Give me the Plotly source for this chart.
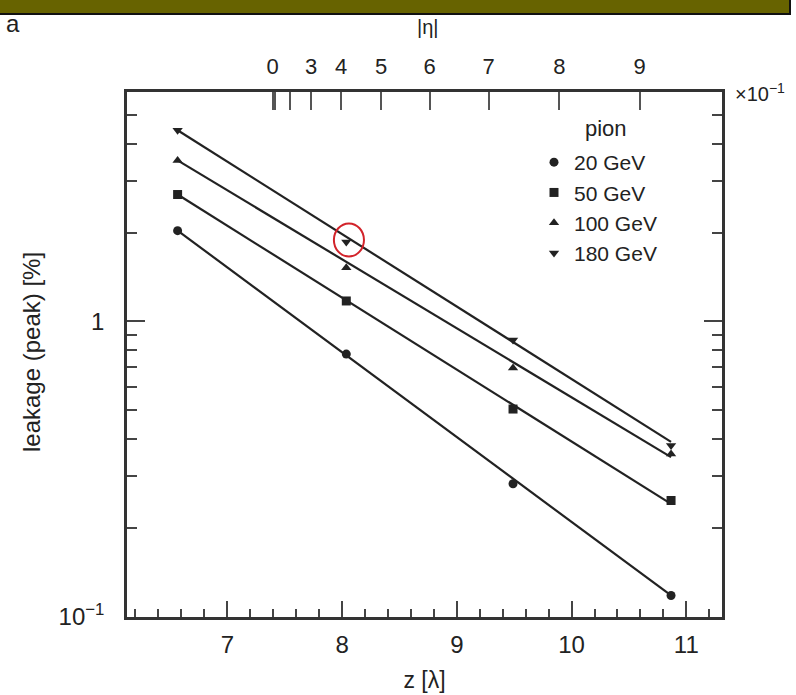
import plotly.graph_objects as go
import math

# ---------------- data ----------------
z_points = [6.567, 8.037, 9.49, 10.867]          # depth z [lambda]
leak_20 = [2.03, 0.775, 0.282, 0.118]
leak_50 = [2.69, 1.173, 0.505, 0.2475]
leak_100 = [3.51, 1.52, 0.695, 0.356]
leak_180 = [4.44, 1.857, 0.866, 0.380]

fit_z = [6.567, 10.867]                           # fitted lines end points
fit_20 = [2.03, 0.118]
fit_50 = [2.69, 0.241]
fit_100 = [3.51, 0.347]
fit_180 = [4.44, 0.391]

series_names = ["20 GeV", "50 GeV", "100 GeV", "180 GeV"]

x_ticks = [7, 8, 9, 10, 11]
y_ticks = [0.1, 1]
y_ticktext = ["10<sup>\u22121</sup>", "1"]
y_minor = [0.2, 0.3, 0.4, 0.5, 0.6, 0.7, 0.8, 0.9, 2, 3, 4, 5]

eta_tick_z = [7.395, 7.418, 7.543, 7.730, 7.991, 8.340, 8.763, 9.277, 9.893, 10.593]
eta_ticktext = ["0", "", "", "3", "4", "5", "6", "7", "8", "9"]

highlight_z = 8.06
highlight_val = 1.888

# ---------------- geometry ----------------
W, H = 796, 695
L, R, T, B = 127, 722, 92, 617
x_range = [6.126, 11.311]
y_range = [-1.001, 0.777]

def px(xp):
    return (xp - L) / (R - L)

def py(yp):
    return (B - yp) / (B - T)

FONT = "Liberation Sans, Arial, Helvetica, sans-serif"
INK = "#222222"

fig = go.Figure()

fits = [fit_20, fit_50, fit_100, fit_180]
for f in fits:
    fig.add_trace(go.Scatter(x=fit_z, y=f, mode="lines",
                             line=dict(color=INK, width=2.2),
                             showlegend=False, hoverinfo="skip"))

symbols = ["circle", "square", "triangle-up", "triangle-down"]
sizes = [9, 9, 9, 9]
for name, vals, sym, sz in zip(series_names, [leak_20, leak_50, leak_100, leak_180], symbols, sizes):
    fig.add_trace(go.Scatter(x=z_points, y=vals, mode="markers", name=name,
                             marker=dict(symbol=sym, size=sz, color=INK)))

# invisible trace to carry the top |eta| axis
fig.add_trace(go.Scatter(x=x_range, y=[1, 1], xaxis="x2", mode="markers",
                         marker=dict(opacity=0), showlegend=False, hoverinfo="skip"))

fig.update_layout(
    width=W, height=H,
    margin=dict(l=L, r=W - R, t=T, b=H - B, autoexpand=False),
    paper_bgcolor="white", plot_bgcolor="white",
    font=dict(family=FONT, size=22, color=INK),
    showlegend=True,
    legend=dict(x=px(534), y=py(142), xanchor="left", yanchor="top",
                bgcolor="rgba(0,0,0,0)", borderwidth=0,
                font=dict(size=21, color=INK),
                itemsizing="trace", tracegroupgap=0),
    xaxis=dict(range=x_range, tickmode="array", tickvals=x_ticks,
               ticks="inside", ticklen=16, tickwidth=1.5, tickcolor="#444",
               minor=dict(dtick=0.2, tick0=0, ticks="inside", ticklen=8,
                          tickwidth=1.5, tickcolor="#444"),
               showline=True, linecolor="#333", linewidth=2.5, mirror=True,
               showgrid=False, zeroline=False, automargin=False,
               tickfont=dict(size=24), ticklabelstandoff=4,
               title=dict(text="z [\u03bb]", font=dict(size=23), standoff=16)),
    xaxis2=dict(range=x_range, overlaying="x", side="top", tickmode="array",
                tickvals=eta_tick_z, ticktext=eta_ticktext,
                ticks="inside", ticklen=18, tickwidth=1.5, tickcolor="#555",
                showline=False, showgrid=False, zeroline=False, automargin=False,
                tickfont=dict(size=22), ticklabelstandoff=13),
    yaxis=dict(type="log", range=y_range, tickmode="array", tickvals=y_ticks,
               ticktext=y_ticktext, ticks="inside", ticklen=18, tickwidth=1.5,
               tickcolor="#444",
               minor=dict(tickmode="array", tickvals=y_minor, ticks="inside",
                          ticklen=10, tickwidth=1.5, tickcolor="#444"),
               showline=True, linecolor="#333", linewidth=2.5, mirror="ticks",
               showgrid=False, zeroline=False, automargin=False,
               tickfont=dict(size=24), ticklabelstandoff=15),
)

# red highlight ellipse around one point (log axis: shape coords in data values)
cx, cy = highlight_z, math.log10(highlight_val)
rx, ry = 0.131, 0.056
fig.add_shape(type="circle", xref="x", yref="y",
              x0=cx - rx, x1=cx + rx, y0=10 ** (cy - ry), y1=10 ** (cy + ry),
              line=dict(color="#d2232a", width=2))

# banner at the very top
fig.add_shape(type="rect", xref="paper", yref="paper", layer="above",
              x0=px(-5), x1=px(790), y0=py(14), y1=py(-10),
              fillcolor="#676300", line=dict(color="#111111", width=2))

# annotations
fig.add_annotation(text="leakage (peak) [%]", xref="paper", yref="paper",
                   x=px(31), y=py(352), xanchor="center", yanchor="middle",
                   textangle=-90, showarrow=False, font=dict(size=24, color=INK))
fig.add_annotation(text="pion", xref="paper", yref="paper",
                   x=px(606), y=py(128), xanchor="center", yanchor="middle",
                   showarrow=False, font=dict(size=22, color=INK))
fig.add_annotation(text="|\u03b7|", xref="paper", yref="paper",
                   x=px(428), y=py(27), xanchor="center", yanchor="middle",
                   showarrow=False, font=dict(size=20, color=INK))
fig.add_annotation(text="\u00d710<sup>\u22121</sup>", xref="paper", yref="paper",
                   x=px(733), y=py(93), xanchor="left", yanchor="middle",
                   showarrow=False, font=dict(size=20, color=INK))
fig.add_annotation(text="a", xref="paper", yref="paper",
                   x=px(13), y=py(24), xanchor="center", yanchor="middle",
                   showarrow=False, font=dict(size=24, color=INK))

fig.write_html("out.html", config={"displayModeBar": False},
               post_script="document.body.style.margin='0';")
